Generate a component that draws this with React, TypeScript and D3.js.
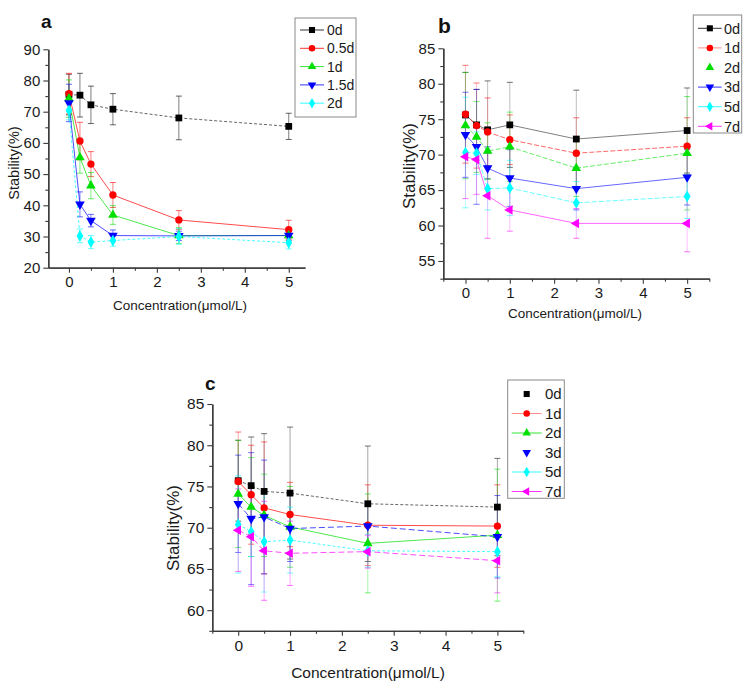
import React, { useEffect, useRef } from "react";
import * as d3 from "d3";

// ---------- data ----------
const xValues = [0, 0.25, 0.5, 1, 2.5, 5];
const xTickValues = [0, 1, 2, 3, 4, 5];

const seriesLabelsA = ["0d", "0.5d", "1d", "1.5d", "2d"];
const seriesLabelsBC = ["0d", "1d", "2d", "3d", "5d", "7d"];

const seriesColors = ["#000000", "#ff0000", "#00e000", "#0000ff", "#00ffff", "#ff00ff"];

// Panel a
const meansA = [
  [75.5, 75.3, 72.2, 70.8, 68.0, 65.3],
  [75.8, 60.6, 53.2, 43.3, 35.3, 32.2],
  [74.2, 55.3, 46.3, 36.9, 30.3, 30.3],
  [72.8, 40.3, 35.1, 30.3, 30.2, 30.3],
  [70.4, 30.2, 28.2, 28.7, 30.0, 28.0],
];
const errorsA = [
  [6.5, 7.0, 6.0, 5.0, 7.0, 4.2],
  [6.5, 6.0, 4.0, 4.0, 3.0, 3.0],
  [6.0, 5.0, 4.2, 3.0, 2.5, 1.5],
  [6.0, 4.0, 2.0, 1.8, 1.5, 1.5],
  [3.0, 2.2, 2.1, 1.8, 2.5, 2.0],
];
const yTicksA = [20, 30, 40, 50, 60, 70, 80, 90];

// Panel b
const meansB = [
  [75.6, 74.2, 73.5, 74.2, 72.2, 73.4],
  [75.7, 74.1, 73.2, 72.1, 70.2, 71.2],
  [74.1, 72.5, 70.5, 71.1, 68.1, 70.2],
  [72.8, 71.1, 68.1, 66.7, 65.2, 66.8],
  [70.3, 70.2, 65.2, 65.3, 63.2, 64.1],
  [69.7, 69.3, 64.2, 62.2, 60.3, 60.3],
];
const errorsB = [
  [6.0, 5.0, 6.9, 6.0, 6.9, 6.0],
  [6.9, 6.0, 4.8, 3.5, 5.0, 4.0],
  [7.5, 5.0, 4.0, 4.9, 4.0, 8.0],
  [6.0, 8.1, 3.0, 4.0, 3.0, 3.9],
  [7.8, 3.0, 3.0, 3.9, 3.0, 3.1],
  [5.9, 4.9, 6.0, 3.0, 2.1, 4.0],
];
const yTicksB = [55, 60, 65, 70, 75, 80, 85];

// Panel c
const meansC = [
  [75.7, 75.1, 74.4, 74.2, 72.9, 72.5],
  [75.6, 74.0, 72.4, 71.6, 70.3, 70.2],
  [74.1, 72.5, 71.5, 70.1, 68.1, 69.1],
  [72.9, 71.1, 71.3, 69.9, 70.2, 68.9],
  [70.4, 69.5, 68.3, 68.5, 67.2, 67.1],
  [69.7, 68.9, 67.2, 66.9, 67.1, 66.0],
];
const errorsC = [
  [4.9, 5.9, 7.0, 8.0, 7.0, 5.9],
  [6.0, 6.0, 8.0, 3.9, 4.9, 5.0],
  [6.5, 6.0, 5.0, 4.9, 6.0, 8.0],
  [5.9, 8.0, 6.9, 4.0, 3.0, 5.0],
  [5.9, 3.0, 6.1, 4.0, 2.0, 3.0],
  [5.0, 6.0, 6.0, 3.9, 2.0, 3.9],
];
const yTicksC = [60, 65, 70, 75, 80, 85];

// ---------- layout / style ----------
const FONT = "'Liberation Sans', Arial, sans-serif";

const symbolFor = (i: number) => {
  const types = [d3.symbolSquare, d3.symbolCircle, d3.symbolTriangle, d3.symbolTriangle, d3.symbolDiamond, d3.symbolTriangle];
  return types[i];
};
const rotationFor = (i: number) => [0, 0, 0, 180, 0, -90][i];
const sizeFor = (i: number) => [46, 42, 40, 40, 40, 40][i];

type Panel = {
  title: string;
  titlePos: [number, number];
  titleSize: number;
  labels: string[];
  means: number[][];
  errors: number[][];
  yTicks: number[];
  yMinorStep: number;
  xDomain: [number, number];
  xRange: [number, number];
  yDomain: [number, number];
  yRange: [number, number];
  tickFont: number;
  xLabelPos: [number, number];
  xLabelSize: number;
  yLabelPos: [number, number];
  yLabelSize: number;
  dashes: (string | null)[];
  barStemOpacity: number;
  barCapOpacity: number;
  lineOpacity: number;
  legendNoLine: number[];
  legend: { x0: number; y0: number; x1: number; y1: number; firstY: number; step: number; lx0: number; lx1: number; tx: number; font: number };
};

const panels: Panel[] = [
  {
    title: "a",
    titlePos: [41, 28],
    titleSize: 19,
    labels: seriesLabelsA,
    means: meansA,
    errors: errorsA,
    yTicks: yTicksA,
    yMinorStep: 5,
    xDomain: [-0.47, 5.37],
    xRange: [48.3, 305],
    yDomain: [20, 90],
    yRange: [267.7, 49.3],
    tickFont: 15,
    xLabelPos: [180, 310],
    xLabelSize: 13.5,
    yLabelPos: [19, 163],
    yLabelSize: 14.5,
    dashes: ["3,2", null, null, null, "3,2"],
    barStemOpacity: 0.5,
    barCapOpacity: 0.6,
    lineOpacity: 0.7,
    legendNoLine: [],
    legend: { x0: 295, y0: 18, x1: 356, y1: 117, firstY: 30, step: 18.3, lx0: 300, lx1: 324, tx: 327, font: 14 },
  },
  {
    title: "b",
    titlePos: [438, 33],
    titleSize: 21,
    labels: seriesLabelsBC,
    means: meansB,
    errors: errorsB,
    yTicks: yTicksB,
    yMinorStep: 2.5,
    xDomain: [-0.5, 5.5],
    xRange: [443.3, 709.3],
    yDomain: [52.5, 85],
    yRange: [278.7, 48.3],
    tickFont: 15,
    xLabelPos: [575, 318],
    xLabelSize: 13.5,
    yLabelPos: [415, 166],
    yLabelSize: 17,
    dashes: [null, "5,2", "5,2", null, "5,2", null],
    barStemOpacity: 0.25,
    barCapOpacity: 0.55,
    lineOpacity: 0.6,
    legendNoLine: [2],
    legend: { x0: 693.3, y0: 15, x1: 741.7, y1: 133, firstY: 28.3, step: 19.6, lx0: 698, lx1: 721.7, tx: 724, font: 14.5 },
  },
  {
    title: "c",
    titlePos: [205, 390],
    titleSize: 19,
    labels: seriesLabelsBC,
    means: meansC,
    errors: errorsC,
    yTicks: yTicksC,
    yMinorStep: 2.5,
    xDomain: [-0.5, 5.5],
    xRange: [212.3, 523.3],
    yDomain: [57.5, 85],
    yRange: [630.8, 404],
    tickFont: 15.5,
    xLabelPos: [368, 678],
    xLabelSize: 15.5,
    yLabelPos: [179, 528],
    yLabelSize: 17,
    dashes: ["3,2", null, null, "6,3", "3,2", "6,3"],
    barStemOpacity: 0.35,
    barCapOpacity: 0.55,
    lineOpacity: 0.7,
    legendNoLine: [0, 3],
    legend: { x0: 507.7, y0: 380, x1: 564.3, y1: 498.3, firstY: 394, step: 19.5, lx0: 511.7, lx1: 541.7, tx: 545, font: 15 },
  },
];

function styleAxis(g: d3.Selection<SVGGElement, unknown, null, undefined>, font: number) {
  g.select(".domain").attr("stroke", "#3a3a3a").attr("stroke-width", 1.3);
  g.selectAll(".tick line").attr("stroke", "#3a3a3a").attr("stroke-width", 1.1);
  g.selectAll(".tick text").attr("fill", "#1a1a1a").style("font-family", FONT).style("font-size", `${font}px`);
}

function drawPanel(svg: d3.Selection<SVGSVGElement, unknown, null, undefined>, p: Panel) {
  const g = svg.append("g");
  const x = d3.scaleLinear().domain(p.xDomain).range(p.xRange);
  const y = d3.scaleLinear().domain(p.yDomain).range(p.yRange);

  const xMinor = d3.range(-0.5, 5.51, 0.5).filter((v) => v >= p.xDomain[0] - 1e-6 && v <= p.xDomain[1] + 1e-6 && Math.abs(v - Math.round(v)) > 1e-6);
  const yMinor = d3
    .range(Math.ceil(p.yDomain[0] / p.yMinorStep) * p.yMinorStep, p.yDomain[1] + 1e-6, p.yMinorStep)
    .filter((v) => !p.yTicks.includes(v));

  // minor ticks
  g.append("g")
    .attr("transform", `translate(0,${p.yRange[0]})`)
    .call(d3.axisBottom(x).tickValues(xMinor).tickSize(3).tickSizeOuter(0).tickFormat(() => ""))
    .call((a) => styleAxis(a as any, p.tickFont));
  g.append("g")
    .attr("transform", `translate(${p.xRange[0]},0)`)
    .call(d3.axisLeft(y).tickValues(yMinor).tickSize(3).tickSizeOuter(0).tickFormat(() => ""))
    .call((a) => styleAxis(a as any, p.tickFont));

  // major axes
  g.append("g")
    .attr("transform", `translate(0,${p.yRange[0]})`)
    .call(d3.axisBottom(x).tickValues(xTickValues).tickSize(5).tickPadding(4).tickSizeOuter(0).tickFormat(d3.format("d")))
    .call((a) => styleAxis(a as any, p.tickFont));
  g.append("g")
    .attr("transform", `translate(${p.xRange[0]},0)`)
    .call(d3.axisLeft(y).tickValues(p.yTicks).tickSize(5).tickPadding(3).tickSizeOuter(0).tickFormat(d3.format("d")))
    .call((a) => styleAxis(a as any, p.tickFont));

  // error bars
  p.means.forEach((ms, si) => {
    const color = seriesColors[si];
    const eg = g.append("g").attr("stroke", color).attr("stroke-width", 1);
    ms.forEach((m, k) => {
      const e = p.errors[si][k];
      const cx = x(xValues[k]);
      eg.append("line")
        .attr("x1", cx)
        .attr("x2", cx)
        .attr("y1", y(m - e))
        .attr("y2", y(m + e))
        .attr("stroke-opacity", p.barStemOpacity);
      [m - e, m + e].forEach((v) => {
        eg.append("line")
          .attr("x1", cx - 3)
          .attr("x2", cx + 3)
          .attr("y1", y(v))
          .attr("y2", y(v))
          .attr("stroke-opacity", p.barCapOpacity);
      });
    });
  });

  // lines
  const line = d3
    .line<number>()
    .x((_, k) => x(xValues[k]))
    .y((d) => y(d));
  p.means.forEach((ms, si) => {
    g.append("path")
      .attr("d", line(ms) as string)
      .attr("fill", "none")
      .attr("stroke", seriesColors[si])
      .attr("stroke-opacity", si === 0 ? p.lineOpacity - 0.1 : p.lineOpacity)
      .attr("stroke-width", 1)
      .attr("stroke-dasharray", p.dashes[si] ?? null);
  });

  // markers
  p.means.forEach((ms, si) => {
    const sym = d3.symbol().type(symbolFor(si)).size(sizeFor(si));
    ms.forEach((m, k) => {
      g.append("path")
        .attr("d", sym() as string)
        .attr("transform", `translate(${x(xValues[k])},${y(m)}) rotate(${rotationFor(si)})`)
        .attr("fill", seriesColors[si]);
    });
  });

  // title
  g.append("text")
    .attr("x", p.titlePos[0])
    .attr("y", p.titlePos[1])
    .style("font-family", FONT)
    .style("font-size", `${p.titleSize}px`)
    .style("font-weight", "bold")
    .attr("fill", "#111")
    .text(p.title);

  // axis labels
  g.append("text")
    .attr("x", p.xLabelPos[0])
    .attr("y", p.xLabelPos[1])
    .attr("text-anchor", "middle")
    .style("font-family", FONT)
    .style("font-size", `${p.xLabelSize}px`)
    .attr("fill", "#1a1a1a")
    .text("Concentration(μmol/L)");
  g.append("text")
    .attr("transform", `translate(${p.yLabelPos[0]},${p.yLabelPos[1]}) rotate(-90)`)
    .attr("text-anchor", "middle")
    .style("font-family", FONT)
    .style("font-size", `${p.yLabelSize}px`)
    .attr("fill", "#1a1a1a")
    .text("Stability(%)");

  // legend
  const L = p.legend;
  g.append("rect")
    .attr("x", L.x0)
    .attr("y", L.y0)
    .attr("width", L.x1 - L.x0)
    .attr("height", L.y1 - L.y0)
    .attr("fill", "none")
    .attr("stroke", "#8a8a8a")
    .attr("stroke-width", 1);
  p.labels.forEach((lab, si) => {
    const ly = L.firstY + si * L.step;
    if (!p.legendNoLine.includes(si)) {
      g.append("line")
        .attr("x1", L.lx0)
        .attr("x2", L.lx1)
        .attr("y1", ly)
        .attr("y2", ly)
        .attr("stroke", seriesColors[si])
        .attr("stroke-opacity", si === 1 && p.title !== "a" ? 0.45 : 0.8)
        .attr("stroke-width", 1);
    }
    const sym = d3.symbol().type(symbolFor(si)).size(sizeFor(si) * 0.8);
    g.append("path")
      .attr("d", sym() as string)
      .attr("transform", `translate(${(L.lx0 + L.lx1) / 2},${ly}) rotate(${rotationFor(si)})`)
      .attr("fill", seriesColors[si]);
    g.append("text")
      .attr("x", L.tx)
      .attr("y", ly)
      .attr("dy", "0.36em")
      .style("font-family", FONT)
      .style("font-size", `${L.font}px`)
      .attr("fill", "#1a1a1a")
      .text(lab);
  });
}

export default function App() {
  const ref = useRef<SVGSVGElement>(null);
  useEffect(() => {
    if (!ref.current) return;
    const svg = d3.select(ref.current);
    svg.selectAll("*").remove();
    panels.forEach((p) => drawPanel(svg as any, p));
  }, []);
  return (
    <svg
      ref={ref}
      width={751}
      height={687}
      style={{ position: "absolute", left: 0, top: 0, background: "#ffffff" }}
    />
  );
}
